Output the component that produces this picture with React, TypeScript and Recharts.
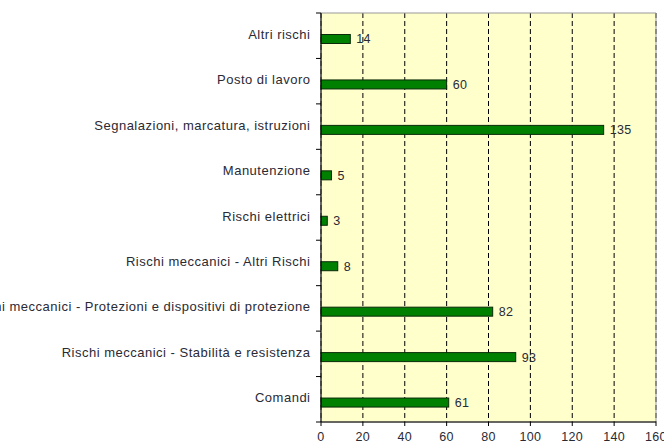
import { Bar, BarChart, CartesianGrid, LabelList, ReferenceArea, XAxis, YAxis } from "recharts"

const categories = [
  "Altri rischi",
  "Posto di lavoro",
  "Segnalazioni, marcatura, istruzioni",
  "Manutenzione",
  "Rischi elettrici",
  "Rischi meccanici - Altri Rischi",
  "Rischi meccanici - Protezioni e dispositivi di protezione",
  "Rischi meccanici - Stabilità e resistenza",
  "Comandi",
]
const counts = [14, 60, 135, 5, 3, 8, 82, 93, 61]
const xTicks = [0, 20, 40, 60, 80, 100, 120, 140, 160]

const data = categories.map((name, i) => ({ name, value: counts[i] }))

const W = 664
const H = 445
const TOP = 13
const AXIS_W = 321
const X_AXIS_H = 23
const BAND = (H - TOP - X_AXIS_H) / categories.length
const FONT = "'Liberation Sans', Arial, sans-serif"
const TEXT = "#2a2a35"

function CategoryTick(props: any) {
  const { y, payload, index } = props
  const top = y - BAND / 2
  return (
    <g>
      <text
        x={AXIS_W - 10.5}
        y={y - 1.5}
        textAnchor="end"
        dominantBaseline="central"
        fontSize={13}
        letterSpacing={0.5}
        fill={TEXT}
        fontFamily={FONT}
      >
        {payload.value}
      </text>
      <line x1={AXIS_W - 5} x2={AXIS_W} y1={top} y2={top} stroke="#000" />
      {index === categories.length - 1 && (
        <line x1={AXIS_W - 5} x2={AXIS_W} y1={top + BAND} y2={top + BAND} stroke="#000" />
      )}
    </g>
  )
}

function ShiftedBar(props: any) {
  const { x, y, width, height } = props
  return <rect x={x} y={y + 3.5} width={width} height={height} fill="#008000" stroke="#0a2a0a" strokeWidth={1} />
}

export default function App() {
  return (
    <div style={{ position: "absolute", left: 0, top: 0, background: "#fff" }}>
      <BarChart
        width={W}
        height={H}
        data={data}
        layout="vertical"
        margin={{ top: TOP, right: 8, bottom: 0, left: 0 }}
        barSize={9}
      >
        <CartesianGrid
          horizontal={false}
          vertical
          strokeDasharray="5 3"
          stroke="#000"
          fill="#ffffcc"
          fillOpacity={1}
        />
        <ReferenceArea x1={0} x2={160} fill="none" stroke="#999" strokeWidth={1} ifOverflow="visible" />
        <XAxis
          type="number"
          domain={[0, 160]}
          ticks={xTicks}
          height={X_AXIS_H}
          tickSize={4}
          tickMargin={6}
          axisLine={{ stroke: "#000" }}
          tickLine={{ stroke: "#000" }}
          tick={{ fontSize: 12.5, fill: TEXT, fontFamily: FONT, letterSpacing: 0.3 }}
          interval={0}
        />
        <YAxis
          type="category"
          dataKey="name"
          width={AXIS_W}
          axisLine={{ stroke: "#000" }}
          tickLine={false}
          tick={<CategoryTick />}
          interval={0}
        />
        <Bar dataKey="value" shape={<ShiftedBar />} isAnimationActive={false}>
          <LabelList
            dataKey="value"
            position="right"
            offset={6}
            fontSize={12.5}
            letterSpacing={0.3}
            fill={TEXT}
            fontFamily={FONT}
            dy={3.5}
          />
        </Bar>
      </BarChart>
    </div>
  )
}
